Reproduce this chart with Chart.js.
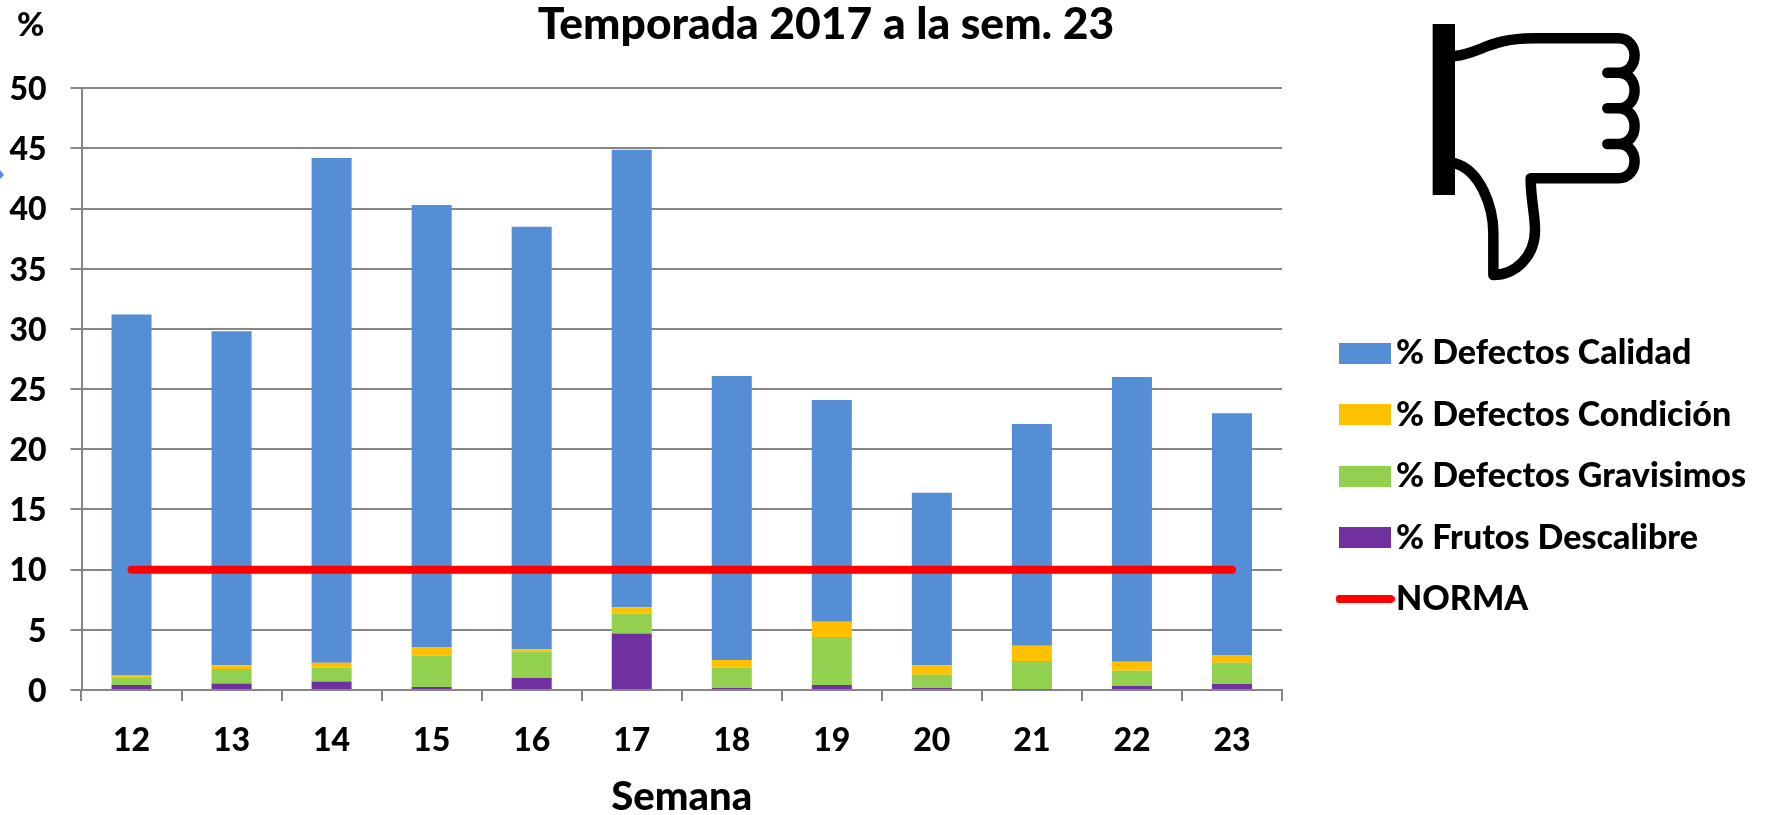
<!DOCTYPE html>
<html><head><meta charset="utf-8">
<style>html,body{margin:0;padding:0;background:#fff}canvas{display:block}</style>
<script src="https://cdn.jsdelivr.net/npm/chart.js@4/dist/chart.umd.min.js"></script>
</head><body><canvas id="c" width="1765" height="815"></canvas>
<script>
const semanas = ['12','13','14','15','16','17','18','19','20','21','22','23'];
const frutosDescalibre = [0.42,0.55,0.70,0.25,1.00,4.70,0.17,0.42,0.17,0.05,0.33,0.50];
const defectosGravisimos = [0.58,1.20,1.18,2.60,2.20,1.65,1.68,3.98,1.10,2.35,1.27,1.77];
const defectosCondicion = [0.25,0.30,0.39,0.72,0.18,0.52,0.65,1.28,0.78,1.28,0.75,0.63];
const defectosCalidad = [29.95,27.75,41.93,36.73,35.12,38.03,23.60,18.42,14.35,18.42,23.65,20.10];
const norma = [10,10,10,10,10,10,10,10,10,10,10,10];

const FONT = 'Lato, Carlito, sans-serif';
const AXIS = '#868686';
const LEGEND_PAD = 27.4;

function swatch(w,h,color,line){
  const s=document.createElement('canvas'); s.width=w; s.height=h;
  const g=s.getContext('2d');
  if(line){g.strokeStyle=color;g.lineWidth=h;g.lineCap='round';g.beginPath();g.moveTo(h/2,h/2);g.lineTo(w-h/2,h/2);g.stroke();}
  else{g.fillStyle=color;g.fillRect(0,0,w,h);}
  return s;
}

const thumbPlugin = {
  id:'extras',
  afterLayout(chart){
    const l=chart.legend; l.left=1351-LEGEND_PAD; l.right=1765; l.top=309; l.bottom=810;
    const t=chart.titleBlock; t.left=0; t.right=2*826; t.top=-2;
  },
  afterDraw(chart){
    const g=chart.ctx; g.save();
    // "%" label
    g.fillStyle='#000'; g.font='900 33px '+FONT; g.textAlign='left'; g.textBaseline='middle';
    g.fillText('%',17,25);
    // small blue corner artifact
    g.fillStyle='#558ED5'; g.beginPath(); g.moveTo(0,170); g.lineTo(4,175); g.lineTo(0,179); g.fill();
    // thumb-down icon
    const X=v=>1320+v/3, Y=v=>v/3;
    g.fillStyle='#000'; g.fillRect(X(338),Y(72),(405-338)/3,(585-72)/3);
    g.strokeStyle='#000'; g.lineWidth=10.5; g.lineCap='round'; g.lineJoin='round';
    const p=new Path2D();
    p.moveTo(X(405),Y(168));
    p.bezierCurveTo(X(480),Y(160),X(510),Y(115),X(640),Y(115));
    p.lineTo(X(895),Y(115));
    p.bezierCurveTo(X(960),Y(115),X(960),Y(218),X(895),Y(218));
    p.lineTo(X(862),Y(218));
    p.moveTo(X(895),Y(218));
    p.bezierCurveTo(X(960),Y(218),X(960),Y(325),X(895),Y(325));
    p.lineTo(X(862),Y(325));
    p.moveTo(X(895),Y(325));
    p.bezierCurveTo(X(960),Y(325),X(960),Y(432),X(895),Y(432));
    p.lineTo(X(862),Y(432));
    p.moveTo(X(895),Y(432));
    p.bezierCurveTo(X(960),Y(432),X(960),Y(535),X(895),Y(535));
    p.lineTo(X(632),Y(535));
    p.bezierCurveTo(X(632),Y(600),X(645),Y(640),X(645),Y(690));
    p.bezierCurveTo(X(645),Y(770),X(585),Y(825),X(520),Y(825));
    p.lineTo(X(520),Y(700));
    p.bezierCurveTo(X(520),Y(620),X(480),Y(510),X(405),Y(490));
    g.stroke(p);
    g.restore();
  }
};

const legendOrder = ['% Defectos Calidad','% Defectos Condición','% Defectos Gravisimos','% Frutos Descalibre','NORMA'];
const swatches = {
  '% Defectos Calidad':swatch(52,21,'#558ED5'),
  '% Defectos Condición':swatch(52,21,'#FFC000'),
  '% Defectos Gravisimos':swatch(52,21,'#92D050'),
  '% Frutos Descalibre':swatch(52,21,'#7030A0'),
  'NORMA':swatch(59,8,'#FF0000',true)
};

const bar=(label,data,color)=>({type:'bar',label,data,backgroundColor:color,borderWidth:0,barPercentage:0.4,categoryPercentage:1,stack:'s'});

new Chart(document.getElementById('c'),{
  data:{labels:semanas,datasets:[
    bar('% Frutos Descalibre',frutosDescalibre,'#7030A0'),
    bar('% Defectos Gravisimos',defectosGravisimos,'#92D050'),
    bar('% Defectos Condición',defectosCondicion,'#FFC000'),
    bar('% Defectos Calidad',defectosCalidad,'#558ED5'),
    {type:'line',label:'NORMA',data:norma,borderColor:'#FF0000',backgroundColor:'#FF0000',borderWidth:8,borderCapStyle:'round',pointRadius:0,order:-1,stack:'n',tension:0}
  ]},
  options:{
    responsive:false,animation:false,
    layout:{padding:{top:35,left:0,right:483,bottom:0}},
    plugins:{
      tooltip:{enabled:false},
      title:{display:true,text:'Temporada 2017 a la sem. 23',color:'#000',font:{family:FONT,size:44.4,weight:'900',lineHeight:1.2},padding:0},
      legend:{
        position:'chartArea',align:'start',
        labels:{
          usePointStyle:true,pointStyleWidth:28,boxHeight:21,padding:LEGEND_PAD,color:'#000',
          font:{family:FONT,size:34,weight:'900'},
          sort:(a,b)=>legendOrder.indexOf(a.text)-legendOrder.indexOf(b.text),
          generateLabels(chart){
            return Chart.defaults.plugins.legend.labels.generateLabels(chart).map(i=>({...i,pointStyle:swatches[i.text],lineWidth:0,strokeStyle:'transparent'}));
          }
        }
      }
    },
    scales:{
      x:{
        stacked:true,offset:true,
        grid:{drawOnChartArea:false,drawTicks:true,tickLength:11,color:AXIS,lineWidth:2,offset:true},
        border:{color:AXIS,width:2},
        ticks:{color:'#000',padding:20,maxRotation:0,font:{family:FONT,size:32,weight:'900'}},
        title:{display:true,text:'Semana',color:'#000',font:{family:FONT,size:40,weight:'900'},padding:{top:0,bottom:-6}},
        afterFit(s){s.height=125;}
      },
      y:{
        stacked:true,min:0,max:50,
        grid:{color:AXIS,lineWidth:2,tickLength:11,drawTicks:true},
        border:{color:AXIS,width:2},
        ticks:{stepSize:5,color:'#000',padding:24,labelOffset:1.5,font:{family:FONT,size:32,weight:'900'}},
        afterFit(s){s.width=81.5;}
      }
    }
  },
  plugins:[thumbPlugin]
});
</script></body></html>
